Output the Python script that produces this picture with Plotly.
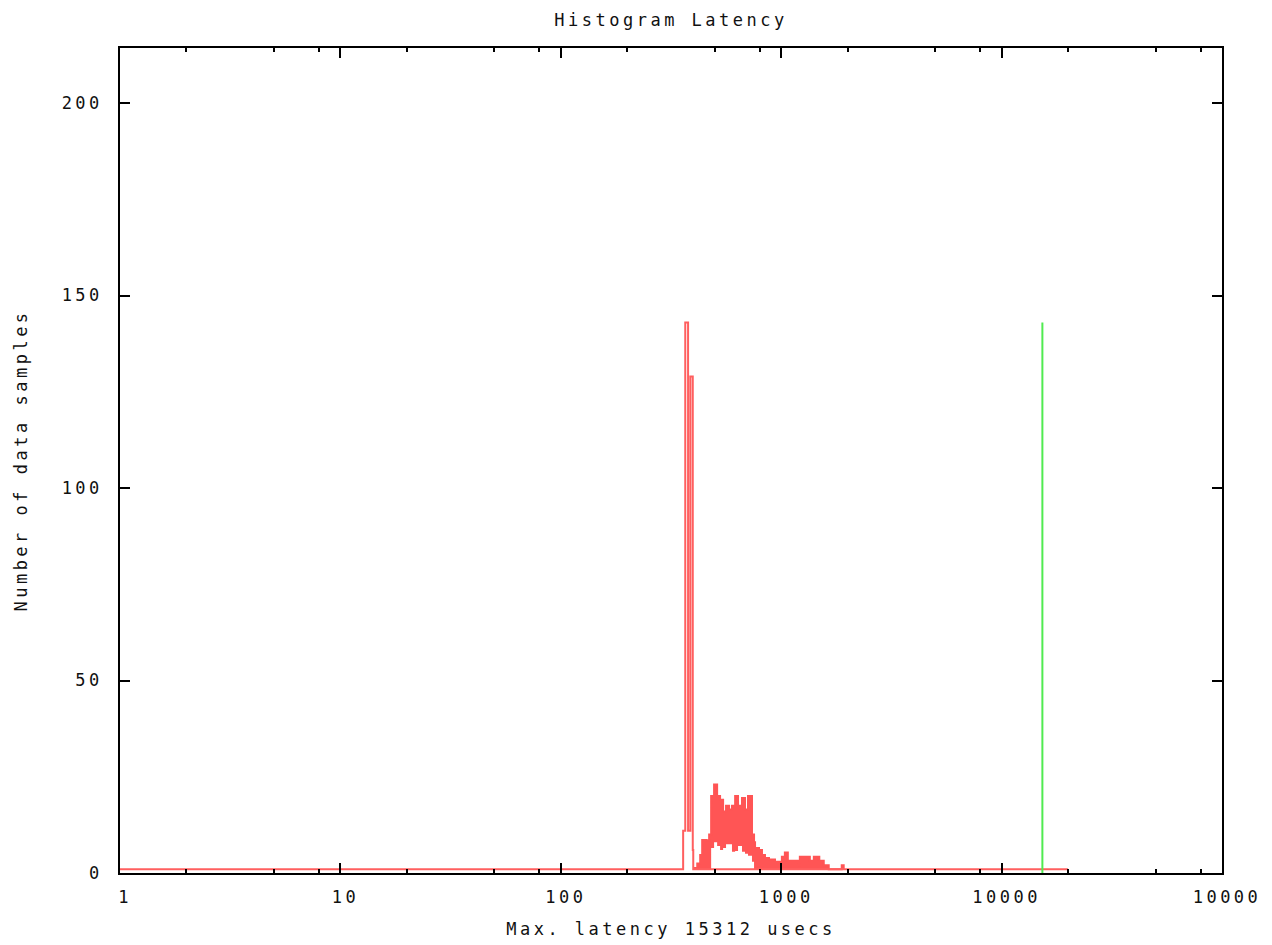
import plotly.graph_objects as go

# Main histogram outline (baseline + the two tall peaks), x in usecs
hist_x = [1, 359, 367, 378, 387, 397, 399, 20000]
hist_y = [1, 11, 143, 11, 129, 6, 1, 1]

# Dense part of the histogram: upper and lower envelopes
dense_x = [399, 416, 429, 438, 457, 471, 481, 496, 512, 528,
           545, 562, 580, 598, 618, 637, 664, 685, 707, 737,
           753, 761, 793, 818, 844, 880, 937, 1007, 1039, 1072,
           1202, 1215, 1349, 1406, 1428, 1451, 1489, 1560, 1643, 1882,
           1921]
dense_hi = [1.3, 2.5, 4.7, 8.6, 8.5, 10, 20, 23, 20, 19,
            16, 17.5, 16.5, 17.5, 20, 17.5, 19.5, 16.5, 20, 10,
            8, 6.5, 6, 4.7, 3.9, 3.5, 2.9, 4.2, 5.3, 3.2,
            2, 4.2, 3.2, 4.2, 3.2, 4.2, 3.2, 2, 1, 2,
            1]
dense_lo = [1, 1, 1, 1, 1, 1, 6.5, 8, 7, 6,
            6.5, 7.5, 7.5, 5.5, 5.7, 7, 5.5, 5, 4.5, 2.9,
            1, 1, 1, 1, 1, 1, 1, 1, 1, 1,
            1, 1, 1, 1, 1, 1, 1, 1, 1, 1,
            1]

# Max latency marker
max_x = [15312, 15312]
max_y = [0, 143]

x_tickvals = [1, 10, 100, 1000, 10000, 100000]
x_ticktext = ["1", "10", "100", "1000", "10000", "10000"]
x_minor = [2, 5, 8, 20, 50, 80, 200, 500, 800, 2000, 5000, 8000, 20000, 50000, 80000]
y_tickvals = [0, 50, 100, 150, 200]
y_ticktext = ["0", "50", "100", "150", "200"]

title_text = "Histogram Latency"
x_title = "Max. latency 15312 usecs"
y_title = "Number of data samples"

RED = "rgb(255,85,85)"
RED_LINE = "rgb(255,95,95)"
GREEN = "rgb(80,235,80)"
FONT = "DejaVu Sans Mono"
FSIZE = 17


def sp(t):
    return '<span style="letter-spacing:3.5px">' + t + "</span>"


fig = go.Figure()
fig.add_trace(go.Scatter(x=dense_x, y=dense_lo, mode="lines", line=dict(shape="hv", width=0, color=RED),
                         showlegend=False, hoverinfo="skip"))
fig.add_trace(go.Scatter(x=dense_x, y=dense_hi, mode="lines", fill="tonexty", fillcolor=RED,
                         line=dict(shape="hv", width=2, color=RED), showlegend=False))
fig.add_trace(go.Scatter(x=hist_x, y=hist_y, mode="lines", line=dict(shape="hv", width=2, color=RED_LINE),
                         showlegend=False))
fig.add_trace(go.Scatter(x=max_x, y=max_y, mode="lines", line=dict(width=2, color=GREEN), showlegend=False))

axis_common = dict(showline=True, linecolor="black", linewidth=1.5, mirror="allticks",
                   ticks="inside", ticklen=10, tickwidth=1.5, tickcolor="black",
                   showgrid=False, zeroline=False,
                   tickfont=dict(family=FONT, size=FSIZE, color="#111"))

fig.update_layout(
    width=1272, height=945,
    margin=dict(l=107, r=58, t=40, b=80),
    paper_bgcolor="white", plot_bgcolor="white",
    title=dict(text=sp(title_text), x=0.5, xref="paper", xanchor="center",
               y=1 - 12 / 945, yanchor="middle", font=dict(family=FONT, size=FSIZE, color="#111")),
    xaxis=dict(type="log", range=[0, 5], tickvals=x_tickvals, ticktext=[sp(t) for t in x_ticktext],
               minor=dict(tickvals=x_minor, ticks="inside", ticklen=4, tickwidth=1.5,
                          tickcolor="black", showgrid=False),
               ticklabelstandoff=8, ticklabelshift=5,
               title=dict(text=sp(x_title), standoff=17,
                          font=dict(family=FONT, size=FSIZE, color="#111")),
               **axis_common),
    yaxis=dict(range=[0, 214.3], tickvals=y_tickvals, ticktext=[sp(t) for t in y_ticktext],
               ticklabelstandoff=12,
               title=dict(text=sp(y_title), standoff=30,
                          font=dict(family=FONT, size=FSIZE, color="#111")),
               **axis_common),
)

fig.write_html("out.html")
